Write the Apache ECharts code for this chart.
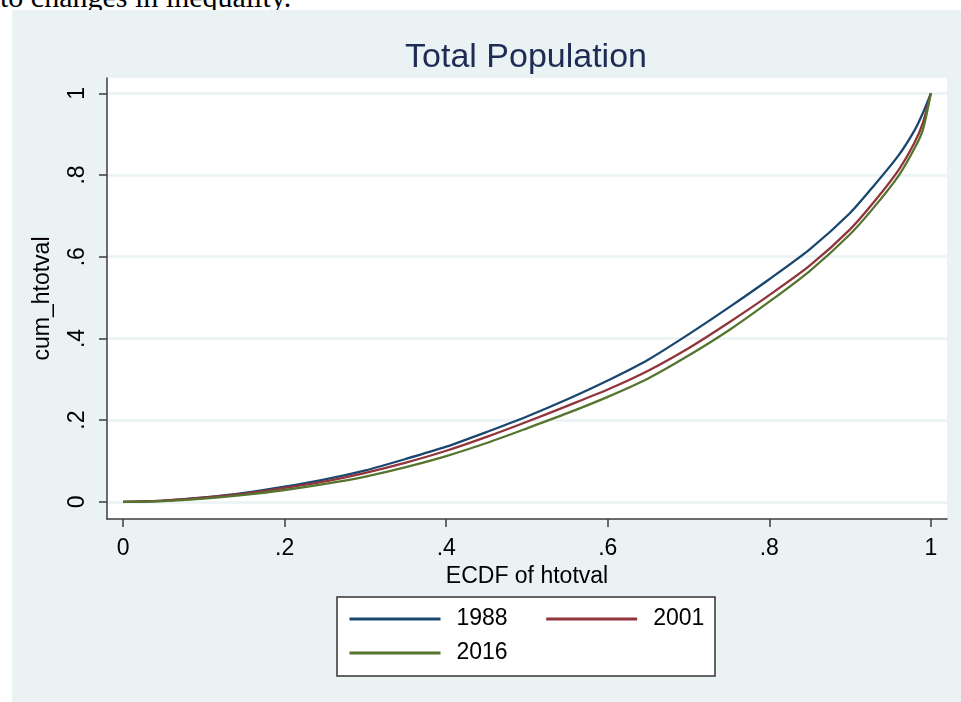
<!DOCTYPE html>
<html>
<head>
<meta charset="utf-8">
<title>Total Population</title>
<script src="https://cdn.jsdelivr.net/npm/echarts@6/dist/echarts.min.js"></script>
<style>
* {
  margin: 0;
  padding: 0;
}
body {
  background: #fff;
  width: 961px;
  height: 702px;
  overflow: hidden;
  position: relative;
}
#caption {
  position: absolute;
  left: 0;
  top: -18px;
  font: 30px "Liberation Serif", serif;
  line-height: 30px;
  color: #000;
  white-space: nowrap;
}
#panel {
  position: absolute;
  left: 12px;
  top: 10px;
  width: 949px;
  height: 692px;
  background: #eaf2f3;
}
#chart {
  position: absolute;
  left: 0;
  top: 0;
  width: 961px;
  height: 702px;
}
</style>
</head>
<body>
<div id="caption">to changes in inequality.</div>
<div id="panel"></div>
<div id="chart"></div>
<script>
// share of households (ECDF of htotval)
const ecdf = [0, 0.05, 0.1, 0.15, 0.2, 0.25, 0.3, 0.35, 0.4, 0.45, 0.5, 0.55,
  0.6, 0.65, 0.7, 0.75, 0.8, 0.85, 0.9, 0.93, 0.96, 0.98, 0.99, 1];

// cumulative share of income
const cum1988 = [0, 0.003, 0.011, 0.022, 0.037, 0.055, 0.077, 0.105, 0.135, 0.171, 0.209, 0.251,
  0.297, 0.348, 0.410, 0.476, 0.545, 0.618, 0.707, 0.775, 0.848, 0.910, 0.951, 1];
const cum2001 = [0, 0.003, 0.010, 0.020, 0.034, 0.050, 0.071, 0.096, 0.125, 0.159, 0.196, 0.235,
  0.275, 0.321, 0.376, 0.439, 0.506, 0.578, 0.667, 0.735, 0.812, 0.880, 0.927, 1];
const cum2016 = [0, 0.002, 0.008, 0.017, 0.029, 0.044, 0.062, 0.085, 0.112, 0.144, 0.180, 0.217,
  0.257, 0.302, 0.358, 0.420, 0.490, 0.565, 0.655, 0.722, 0.798, 0.866, 0.910, 1];

const years = ["1988", "2001", "2016"];
const tickValues = [0, 0.2, 0.4, 0.6, 0.8, 1];

const font = '"Liberation Sans", Arial, sans-serif';
const axisColor = "#3c3c3c";

const tickLabel = (v) => {
  if (v === 0) return "0";
  if (v === 1) return "1";
  return String(v).replace(/^0/, "");
};

const pairs = (ys) => ecdf.map((x, i) => [x, ys[i]]);

const chart = echarts.init(document.getElementById("chart"), null, {
  renderer: "canvas",
});

const lineSeries = (name, ys, color) => ({
  name: name,
  type: "line",
  data: pairs(ys),
  symbol: "none",
  showSymbol: false,
  smooth: 0.25,
  color: color,
  lineStyle: { width: 2.3, color: color },
});

const legendBase = {
  left: 348,
  orient: "horizontal",
  itemWidth: 91,
  itemHeight: 14,
  itemGap: 37,
  padding: 0,
  selectedMode: false,
  itemStyle: { opacity: 0 },
  lineStyle: { width: 3 },
  textStyle: {
    fontFamily: font,
    fontSize: 23,
    color: "#000",
    lineHeight: 24,
    padding: [0, 0, 0, 11],
  },
};

const option = {
  animation: false,
  backgroundColor: "transparent",
  textStyle: { fontFamily: font },
  title: {
    text: "Total Population",
    left: 526,
    top: 41,
    textAlign: "center",
    padding: 0,
    textStyle: {
      fontFamily: font,
      fontSize: 34,
      fontWeight: "normal",
      color: "#1e2c55",
    },
  },
  graphic: [
    {
      type: "rect",
      shape: { x: 337, y: 597, width: 378, height: 79 },
      style: { fill: "#fff", stroke: "#333", lineWidth: 1.5 },
    },
  ],
  legend: [
    Object.assign({}, legendBase, { top: 607, data: [years[0], years[1]] }),
    Object.assign({}, legendBase, { top: 641, data: [years[2]] }),
  ],
  grid: {
    left: 107,
    top: 78,
    width: 840,
    height: 441,
    show: true,
    backgroundColor: "#fff",
    borderWidth: 0,
  },
  xAxis: {
    type: "value",
    min: -0.02,
    max: 1.02,
    name: "ECDF of htotval",
    nameLocation: "middle",
    nameGap: 41,
    nameTextStyle: { fontFamily: font, fontSize: 23, color: "#000" },
    axisLine: { show: true, onZero: false, lineStyle: { color: axisColor, width: 1.5 } },
    axisTick: {
      show: true,
      customValues: tickValues,
      length: 8,
      lineStyle: { color: axisColor, width: 1.5 },
    },
    axisLabel: {
      customValues: tickValues,
      formatter: tickLabel,
      fontFamily: font,
      fontSize: 23,
      color: "#000",
      margin: 18,
    },
    splitLine: { show: false },
  },
  yAxis: {
    type: "value",
    min: -0.042,
    max: 1.0375,
    name: "cum_htotval",
    nameLocation: "middle",
    nameGap: 53,
    nameTextStyle: { fontFamily: font, fontSize: 23, color: "#000" },
    axisLine: { show: true, onZero: false, lineStyle: { color: axisColor, width: 1.5 } },
    axisTick: {
      show: true,
      customValues: tickValues,
      length: 8,
      lineStyle: { color: axisColor, width: 1.5 },
    },
    axisLabel: {
      customValues: tickValues,
      formatter: tickLabel,
      rotate: 90,
      fontFamily: font,
      fontSize: 23,
      color: "#000",
      margin: 18,
    },
    splitLine: {
      show: true,
      lineStyle: { color: "#eaf2f3", width: 2.5 },
    },
  },
  series: [
    lineSeries(years[0], cum1988, "#1a476f"),
    lineSeries(years[1], cum2001, "#90353b"),
    lineSeries(years[2], cum2016, "#55752f"),
  ],
};

chart.setOption(option);
window.addEventListener("resize", chart.resize);
</script>
</body>
</html>
